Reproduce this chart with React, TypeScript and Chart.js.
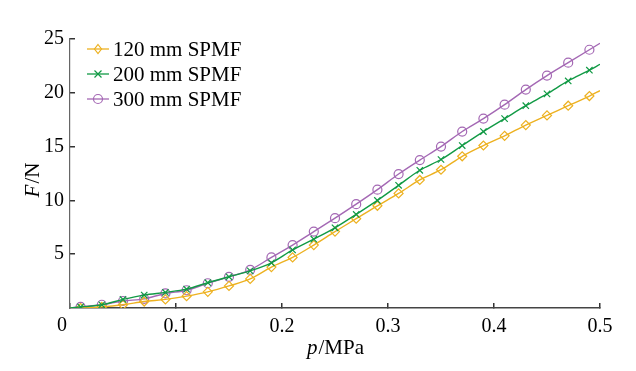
import React, { useEffect, useRef } from 'react';
import { Chart, registerables } from 'chart.js';

Chart.register(...registerables);

const pressure = [0, 0.01, 0.03, 0.05, 0.07, 0.09, 0.11, 0.13, 0.15, 0.17, 0.19, 0.21, 0.23, 0.25, 0.27, 0.29, 0.31, 0.33, 0.35, 0.37, 0.39, 0.41, 0.43, 0.45, 0.47, 0.49, 0.5];
const force120 = [0, 0.0, 0.1, 0.3, 0.6, 0.8, 1.1, 1.5, 2.05, 2.7, 3.8, 4.7, 5.85, 7.1, 8.3, 9.5, 10.65, 11.9, 12.85, 14.1, 15.1, 16.0, 17.0, 17.9, 18.8, 19.7, 20.2];
const force200 = [0, 0.1, 0.3, 0.8, 1.2, 1.45, 1.75, 2.35, 2.9, 3.45, 4.2, 5.4, 6.4, 7.45, 8.7, 10.0, 11.4, 12.8, 13.8, 15.1, 16.4, 17.6, 18.8, 19.9, 21.1, 22.1, 22.65];
const force300 = [0, 0.1, 0.3, 0.65, 0.85, 1.35, 1.65, 2.3, 2.9, 3.55, 4.7, 5.85, 7.1, 8.35, 9.65, 11.0, 12.45, 13.75, 15.0, 16.4, 17.6, 18.9, 20.3, 21.6, 22.8, 24.0, 24.6];
const seriesNames = ['120 mm SPMF', '200 mm SPMF', '300 mm SPMF'];
const xTicks = [0, 0.1, 0.2, 0.3, 0.4, 0.5];
const yTicks = [5, 10, 15, 20, 25];
const originLabel = '0';
const xTitle = ['p', '/MPa'];
const yTitle = ['F', '/N'];

const COLORS = ['#EDB120', '#119A45', '#A468B4'];
const STYLES = ['diamond', 'x', 'circle'];
const FONT = '"Liberation Serif", "Times New Roman", serif';
const TICK_SIZE = 20;
const TEXT_SIZE = 21;

function drawMarker(ctx: CanvasRenderingContext2D, style: string, x: number, y: number, color: string) {
  ctx.save();
  ctx.strokeStyle = color;
  ctx.lineWidth = 1.2;
  ctx.beginPath();
  if (style === 'diamond') {
    ctx.moveTo(x, y - 4.5); ctx.lineTo(x + 3.5, y); ctx.lineTo(x, y + 4.5); ctx.lineTo(x - 3.5, y); ctx.closePath();
  } else if (style === 'x') {
    ctx.moveTo(x - 3.5, y - 3.5); ctx.lineTo(x + 3.5, y + 3.5);
    ctx.moveTo(x + 3.5, y - 3.5); ctx.lineTo(x - 3.5, y + 3.5);
  } else {
    ctx.arc(x, y, 4.5, 0, Math.PI * 2);
  }
  ctx.stroke();
  ctx.restore();
}

const decorPlugin = {
  id: 'decor',
  afterDraw(chart: any) {
    const ctx: CanvasRenderingContext2D = chart.ctx;
    const area = chart.chartArea;
    ctx.save();
    ctx.fillStyle = '#000';
    ctx.textBaseline = 'middle';
    // legend
    seriesNames.forEach((name, i) => {
      const y = area.top + 10 + i * 25;
      const x0 = area.left + 17;
      ctx.strokeStyle = COLORS[i];
      ctx.lineWidth = 1.3;
      ctx.beginPath();
      ctx.moveTo(x0, y); ctx.lineTo(x0 + 22, y); ctx.stroke();
      drawMarker(ctx, STYLES[i], x0 + 11, y, COLORS[i]);
      ctx.font = `${TEXT_SIZE}px ${FONT}`;
      ctx.textAlign = 'left';
      ctx.fillText(name, x0 + 26, y + 1);
    });
    // origin label
    ctx.font = `${TICK_SIZE}px ${FONT}`;
    ctx.textAlign = 'center';
    ctx.fillText(originLabel, area.left - 8, area.bottom + 18);
    // x title
    ctx.font = `italic ${TEXT_SIZE}px ${FONT}`;
    const w1 = ctx.measureText(xTitle[0]).width;
    ctx.font = `${TEXT_SIZE}px ${FONT}`;
    const w2 = ctx.measureText(xTitle[1]).width;
    const cx = (area.left + area.right) / 2;
    const sx = cx - (w1 + w2) / 2;
    const ty = area.bottom + 40;
    ctx.textAlign = 'left';
    ctx.font = `italic ${TEXT_SIZE}px ${FONT}`;
    ctx.fillText(xTitle[0], sx, ty);
    ctx.font = `${TEXT_SIZE}px ${FONT}`;
    ctx.fillText(xTitle[1], sx + w1 + 1, ty);
    // y title
    ctx.translate(25, (area.top + area.bottom) / 2 + 7);
    ctx.rotate(-Math.PI / 2);
    ctx.font = `italic ${TEXT_SIZE}px ${FONT}`;
    const v1 = ctx.measureText(yTitle[0]).width;
    ctx.font = `${TEXT_SIZE}px ${FONT}`;
    const v2 = ctx.measureText(yTitle[1]).width;
    ctx.font = `italic ${TEXT_SIZE}px ${FONT}`;
    ctx.fillText(yTitle[0], -(v1 + v2) / 2, 0);
    ctx.font = `${TEXT_SIZE}px ${FONT}`;
    ctx.fillText(yTitle[1], -(v1 + v2) / 2 + v1 + 1, 0);
    ctx.restore();
  },
};

export default function App() {
  const ref = useRef<HTMLCanvasElement>(null);
  useEffect(() => {
    if (!ref.current) return;
    const series = [force120, force200, force300];
    const pointStyles = ['rectRot', 'crossRot', 'circle'];
    const radii = [4.5, 4.5, 4.5];
    const chart = new Chart(ref.current, {
      type: 'line',
      data: {
        datasets: series.map((f, i) => ({
          label: seriesNames[i],
          data: pressure.map((p, j) => ({ x: p, y: f[j] })),
          borderColor: COLORS[i],
          borderWidth: 1.4,
          pointStyle: pointStyles[i],
          pointRadius: (c: any) => (c.dataIndex === 0 || c.dataIndex === pressure.length - 1 ? 0 : radii[i]),
          pointBorderWidth: 1.2,
          pointBorderColor: COLORS[i],
          pointBackgroundColor: 'rgba(0,0,0,0)',
          cubicInterpolationMode: 'monotone',
          fill: false,
          order: [1, 0, 2][i],
        })),
      },
      plugins: [decorPlugin],
      options: {
        responsive: false,
        animation: false,
        layout: { padding: { top: 31, right: 28, left: 0, bottom: 0 } },
        plugins: { legend: { display: false }, tooltip: { enabled: false } },
        scales: {
          x: {
            type: 'linear',
            min: 0,
            max: 0.5,
            afterFit: (s: any) => { s.height = 55; },
            afterBuildTicks: (s: any) => { s.ticks = xTicks.map((v) => ({ value: v })); },
            ticks: {
              font: { family: FONT, size: TICK_SIZE },
              color: '#000',
              padding: 12,
              maxRotation: 0,
              autoSkip: false,
              callback: (v: any) => (v === 0 ? '' : Number(v).toFixed(1)),
            },
            grid: { display: true, drawOnChartArea: false, drawTicks: true, tickLength: -5, color: '#333', lineWidth: 1.5 },
            border: { display: true, color: '#444', width: 1.5 },
          },
          y: {
            type: 'linear',
            min: 0,
            max: 25,
            afterFit: (s: any) => { s.width = 62; },
            afterBuildTicks: (s: any) => { s.ticks = yTicks.map((v) => ({ value: v })); },
            ticks: {
              font: { family: FONT, size: TICK_SIZE },
              color: '#000',
              padding: 11,
              autoSkip: false,
              callback: (v: any) => String(v),
            },
            grid: { display: true, drawOnChartArea: false, drawTicks: true, tickLength: -5, color: '#333', lineWidth: 1.5 },
            border: { display: true, color: '#666', width: 1.2 },
          },
        },
      } as any,
    });
    return () => chart.destroy();
  }, []);
  return (
    <div style={{ width: 620, height: 355 }}>
      <canvas ref={ref} width={620} height={355} style={{ display: 'block' }} />
    </div>
  );
}
